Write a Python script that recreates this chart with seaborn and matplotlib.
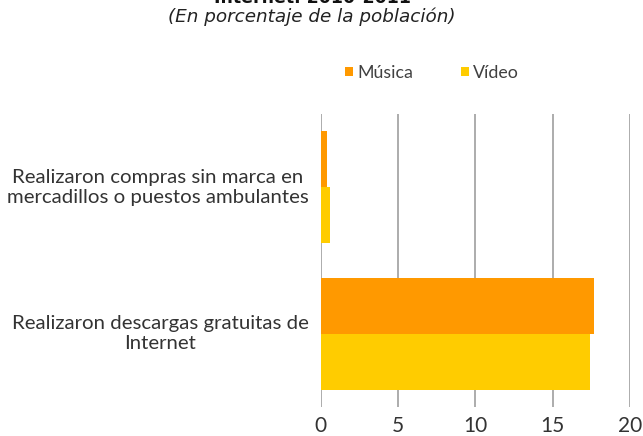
import matplotlib
matplotlib.use("Agg")
import matplotlib.pyplot as plt
import matplotlib.transforms as mtransforms
import seaborn as sns
import pandas as pd
from matplotlib.patches import Patch

categorias = ["Realizaron compras sin marca en\nmercadillos o puestos ambulantes",
              "Realizaron descargas gratuitas de\nInternet"]
series = ["Música", "Vídeo"]
musica = [0.43, 17.68]
video = [0.58, 17.44]
colores = ["#FF9900", "#FFCC00"]
xticks = [0, 5, 10, 15, 20]

df = pd.DataFrame({
    "categoria": categorias * 2,
    "serie": [series[0]] * 2 + [series[1]] * 2,
    "valor": musica + video,
})

sns.set_style("white")
plt.rcParams["font.family"] = ["Lato", "DejaVu Sans"]

fig = plt.figure(figsize=(6.43, 4.36), dpi=100)
ax = fig.add_axes([320.7 / 643, 1 - 407.3 / 436, (630 - 320.7) / 643, (407.3 - 114) / 436])

sns.barplot(data=df, y="categoria", x="valor", hue="serie", orient="h",
            palette=colores, width=0.765, ax=ax, legend=False,
            saturation=1, edgecolor="none", linewidth=0)

ax.set_xlim(0, 20)
ax.set_xticks(xticks)
ax.set_xticklabels([str(t) for t in xticks])
ax.set_xlabel("")
ax.set_ylabel("")
for s in ax.spines.values():
    s.set_visible(False)
ax.xaxis.grid(True, color="#a6a6a6", linewidth=1.3)
ax.yaxis.grid(False)
ax.set_axisbelow(True)
ax.tick_params(axis="both", length=0, colors="#333333")
ax.tick_params(axis="x", labelsize=15, pad=6.5)
ax.tick_params(axis="y", labelsize=14.7, pad=8.8)
shift = mtransforms.ScaledTranslation(0, 3 / 100, fig.dpi_scale_trans)
for lbl in ax.get_yticklabels():
    lbl.set_multialignment("center")
    lbl.set_transform(lbl.get_transform() + shift)

handles = [Patch(facecolor=c, edgecolor="none") for c in colores]
fig.legend(handles, series, loc="center", bbox_to_anchor=(432 / 643, 1 - 73 / 436),
           ncol=2, frameon=False, fontsize=12.8, handlelength=0.45, handleheight=0.45,
           handletextpad=0.25, columnspacing=2.7, labelcolor="#404040")

fig.text(312 / 643, 1 - 3 / 436, "Internet. 2010-2011", ha="center", va="baseline",
         fontsize=12.5, fontweight="bold", color="#111111", family="DejaVu Sans")
fig.text(311.5 / 643, 1 - 17 / 436, "(En porcentaje de la población)", ha="center",
         va="center", fontsize=13.2, fontstyle="italic", color="#222222",
         family="DejaVu Sans")

fig.savefig("out.png", dpi=100)
